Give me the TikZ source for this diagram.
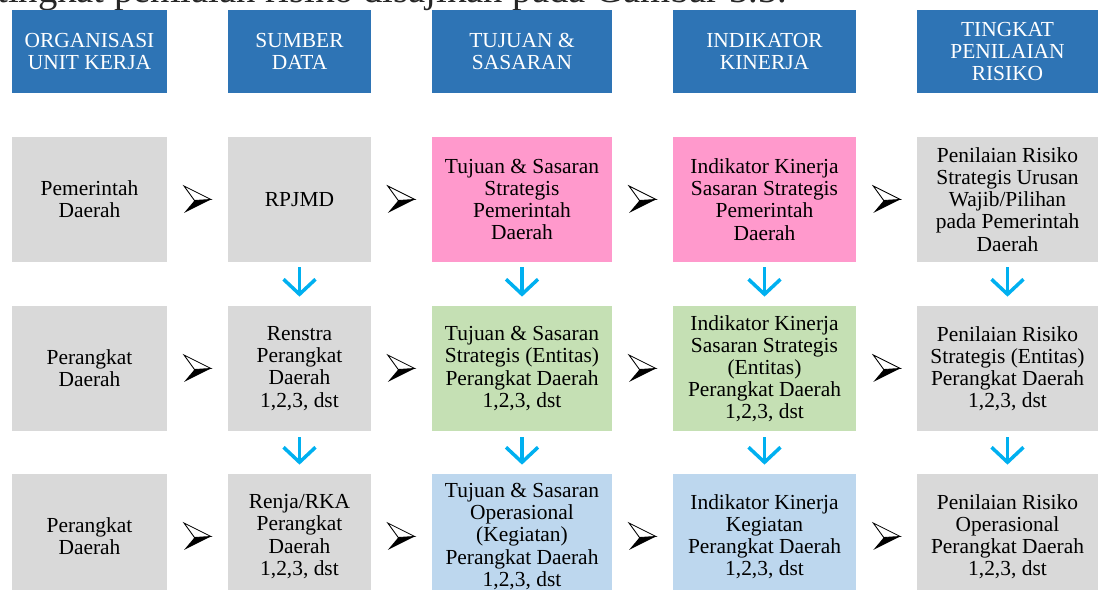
\documentclass[tikz,border=0pt]{standalone}
\usepackage{fontspec}
\setmainfont{Liberation Serif}
\usetikzlibrary{arrows.meta, calc}

\definecolor{biruhead}{HTML}{2E74B5}
\definecolor{abu}{HTML}{D9D9D9}
\definecolor{merahmuda}{HTML}{FF99CC}
\definecolor{hijau}{HTML}{C5E0B4}
\definecolor{birumuda}{HTML}{BDD7EE}
\definecolor{birupanah}{HTML}{00B0F0}

\begin{document}
\begin{tikzpicture}[x=0.02cm, y=-0.02cm]
  %tikz%
  % Alur penilaian risiko
  %tikz%
    \tikzset{
      kotak/.style={minimum width=#1, minimum height=2.5cm, inner sep=0pt,
        align=center, font=\fontsize{12.2}{12.6}\selectfont},
      judulkolom/.style={kotak=#1, minimum height=1.66cm, fill=biruhead, text=white},
      turun/.style={draw=birupanah, line width=0.07cm,
        -{Straight Barb[length=0.3cm, width=0.64cm]}},
      panah/.pic={
        \filldraw[fill=white, draw=black, line width=0.5pt] (13.5,0) -- (-13.5,-13.5) -- (-3,1) -- cycle;
        \fill[black] (13.5,0) -- (-3,1) -- (-13.5,13.5) -- cycle;
      }
    }
    \useasboundingbox (0,0) rectangle (1100,590);

    \node[anchor=base west, inner sep=0pt, text=black!85, font=\fontsize{22}{22}\selectfont]
      (kalimat) at (-3,2.5) {tingkat penilaian risiko disajikan pada Gambar 3.3.};

    % judul kolom
    \node[judulkolom=3.1cm]  (h-1) at (89.5,51.5)  {ORGANISASI\\UNIT KERJA};
    \node[judulkolom=2.86cm] (h-2) at (299.5,51.5) {SUMBER\\DATA};
    \node[judulkolom=3.62cm] (h-3) at (522,51.5)   {TUJUAN \&\\SASARAN};
    \node[judulkolom=3.68cm] (h-4) at (764.5,51.5) {INDIKATOR\\KINERJA};
    \node[judulkolom=3.62cm] (h-5) at (1007.5,51.5) {TINGKAT\\PENILAIAN\\RISIKO};

    % baris 1
    \node[kotak=3.1cm, fill=abu]        (r1-1) at (89.5,199.5)  {Pemerintah\\Daerah};
    \node[kotak=2.86cm, fill=abu]       (r1-2) at (299.5,199.5) {RPJMD};
    \node[kotak=3.62cm, fill=merahmuda] (r1-3) at (522,199.5)   {Tujuan \& Sasaran\\Strategis\\Pemerintah\\Daerah};
    \node[kotak=3.68cm, fill=merahmuda] (r1-4) at (764.5,199.5) {Indikator Kinerja\\Sasaran Strategis\\Pemerintah\\Daerah};
    \node[kotak=3.62cm, fill=abu]       (r1-5) at (1007.5,199.5) {Penilaian Risiko\\Strategis Urusan\\Wajib/Pilihan\\pada Pemerintah\\Daerah};

    % baris 2
    \node[kotak=3.1cm, fill=abu]    (r2-1) at (89.5,368.5)  {Perangkat\\Daerah};
    \node[kotak=2.86cm, fill=abu]   (r2-2) at (299.5,368.5) {Renstra\\Perangkat\\Daerah\\1,2,3, dst};
    \node[kotak=3.62cm, fill=hijau] (r2-3) at (522,368.5)   {Tujuan \& Sasaran\\Strategis (Entitas)\\Perangkat Daerah\\1,2,3, dst};
    \node[kotak=3.68cm, fill=hijau] (r2-4) at (764.5,368.5) {Indikator Kinerja\\Sasaran Strategis\\(Entitas)\\Perangkat Daerah\\1,2,3, dst};
    \node[kotak=3.62cm, fill=abu]   (r2-5) at (1007.5,368.5) {Penilaian Risiko\\Strategis (Entitas)\\Perangkat Daerah\\1,2,3, dst};

    % baris 3
    \node[kotak=3.1cm, fill=abu]       (r3-1) at (89.5,536.5)  {Perangkat\\Daerah};
    \node[kotak=2.86cm, fill=abu]      (r3-2) at (299.5,536.5) {Renja/RKA\\Perangkat\\Daerah\\1,2,3, dst};
    \node[kotak=3.62cm, fill=birumuda] (r3-3) at (522,536.5)   {Tujuan \& Sasaran\\Operasional\\(Kegiatan)\\Perangkat Daerah\\1,2,3, dst};
    \node[kotak=3.68cm, fill=birumuda] (r3-4) at (764.5,536.5) {Indikator Kinerja\\Kegiatan\\Perangkat Daerah\\1,2,3, dst};
    \node[kotak=3.62cm, fill=abu]      (r3-5) at (1007.5,536.5) {Penilaian Risiko\\Operasional\\Perangkat Daerah\\1,2,3, dst};

    % panah ke kanan
    \foreach \r in {1,2,3}{
    \foreach \i/\j in {1/2,2/3,3/4,4/5}{
      \pic at ($(r\r-\i.east)!0.5!(r\r-\j.west)$) {panah};
    }
    }

    % panah ke bawah
    \foreach \i in {2,...,5}{
      \draw[turun] ([yshift=-0.1cm]r1-\i.south) -- ([yshift=0.18cm]r2-\i.north);
      \draw[turun] ([yshift=-0.12cm]r2-\i.south) -- ([yshift=0.18cm]r3-\i.north);
    }

  \end{tikzpicture}
\end{document}
